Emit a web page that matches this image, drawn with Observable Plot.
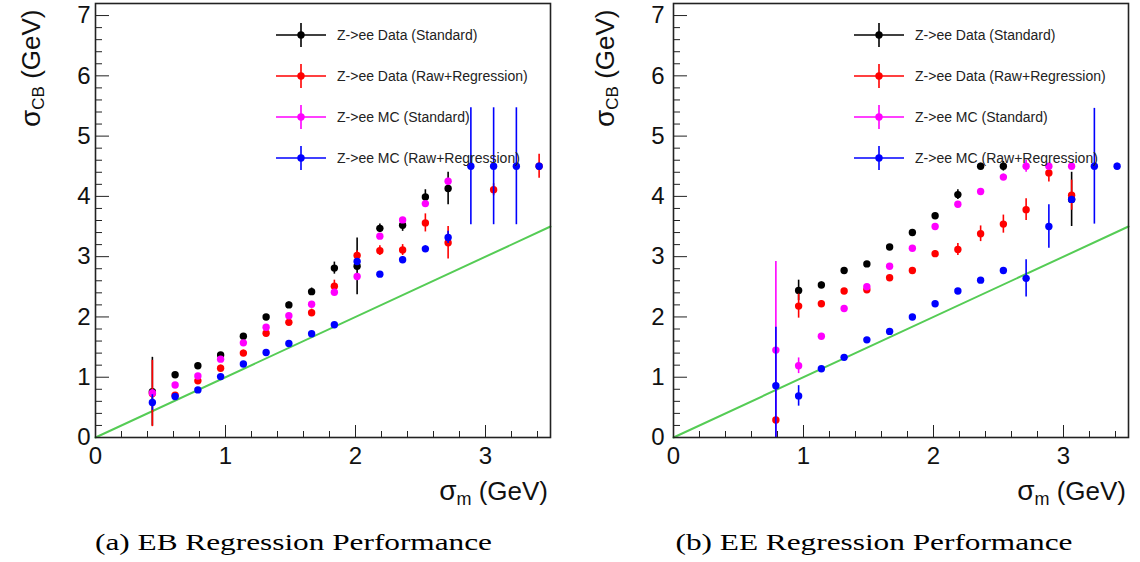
<!DOCTYPE html>
<html><head><meta charset="utf-8">
<script src="https://cdn.jsdelivr.net/npm/d3@7"></script>
<script src="https://cdn.jsdelivr.net/npm/@observablehq/plot@0.6"></script>
<style>
body{margin:0;background:#fff;}
#wrap{display:flex;width:1140px;height:562px;overflow:hidden;}
#wrap svg{display:block;}
</style></head><body><div id="wrap"></div>
<script>
// ---- data ----
const binCenters = [0.4375, 0.6125, 0.7875, 0.9625, 1.1375, 1.3125, 1.4875, 1.6625, 1.8375,
                    2.0125, 2.1875, 2.3625, 2.5375, 2.7125, 2.8875, 3.0625, 3.2375, 3.4125];
const seriesNames = ["Z->ee Data (Standard)", "Z->ee Data (Raw+Regression)", "Z->ee MC (Standard)", "Z->ee MC (Raw+Regression)"];
const seriesColors = ["#000000", "#ff0000", "#ff00ff", "#0000ff"];
const xTickLabels = [0, 1, 2, 3];
const yTickLabels = [0, 1, 2, 3, 4, 5, 6, 7];
const diagonal = [0, 3.5];
const captions = ["(a) EB Regression Performance", "(b) EE Regression Performance"];

// EB panel
const ebDataStd    = [0.76, 1.04, 1.19, 1.37, 1.68, 2.00, 2.20, 2.42, 2.81, 2.84, 3.47, 3.52, 3.99, 4.13, null, null, null, null];
const ebDataStdErr = [0.57, 0.04, 0.04, 0.04, 0.04, 0.04, 0.05, 0.06, 0.10, 0.47, 0.07, 0.10, 0.12, 0.27, null, null, null, null];
const ebDataReg    = [0.73, 0.70, 0.94, 1.15, 1.40, 1.73, 1.91, 2.07, 2.51, 3.02, 3.10, 3.11, 3.56, 3.23, null, 4.11, null, 4.50];
const ebDataRegErr = [0.55, 0.04, 0.05, 0.05, 0.05, 0.05, 0.05, 0.06, 0.10, 0.08, 0.08, 0.09, 0.15, 0.27, null, 0.10, null, 0.20];
const ebMcStd      = [0.74, 0.87, 1.02, 1.30, 1.57, 1.83, 2.02, 2.21, 2.41, 2.67, 3.34, 3.61, 3.88, 4.25, null, null, null, null];
const ebMcStdErr   = [0.05, 0.03, 0.03, 0.03, 0.03, 0.03, 0.03, 0.03, 0.03, 0.03, 0.03, 0.04, 0.04, 0.05, null, null, null, null];
const ebMcReg      = [0.58, 0.68, 0.79, 1.01, 1.22, 1.41, 1.56, 1.72, 1.87, 2.92, 2.71, 2.95, 3.13, 3.32, 4.50, 4.50, 4.50, 4.50];
const ebMcRegErr   = [0.13, 0.03, 0.03, 0.03, 0.03, 0.03, 0.03, 0.03, 0.03, 0.05, 0.04, 0.05, 0.05, 0.10, 0.97, 0.97, 0.97, 0.05];

// EE panel
const eeDataStd    = [null, null, null, 2.44, 2.53, 2.77, 2.88, 3.16, 3.40, 3.68, 4.03, 4.50, 4.50, null, null, 3.95, null, null];
const eeDataStdErr = [null, null, null, 0.17, 0.05, 0.04, 0.04, 0.04, 0.04, 0.04, 0.08, 0.05, 0.08, null, null, 0.45, null, null];
const eeDataReg    = [null, null, 0.29, 2.18, 2.22, 2.43, 2.45, 2.65, 2.77, 3.05, 3.12, 3.38, 3.54, 3.78, 4.39, 4.02, null, null];
const eeDataRegErr = [null, null, 0.05, 0.20, 0.05, 0.04, 0.04, 0.04, 0.04, 0.05, 0.10, 0.13, 0.15, 0.18, 0.15, 0.25, null, null];
const eeMcStd      = [null, null, 1.45, 1.19, 1.68, 2.14, 2.50, 2.84, 3.14, 3.50, 3.87, 4.08, 4.32, 4.50, 4.50, 4.50, null, null];
const eeMcStdErr   = [null, null, 1.47, 0.13, 0.04, 0.04, 0.04, 0.04, 0.04, 0.04, 0.04, 0.04, 0.05, 0.10, 0.05, 0.05, null, null];
const eeMcReg      = [null, null, 0.86, 0.69, 1.14, 1.33, 1.62, 1.76, 2.00, 2.22, 2.43, 2.61, 2.77, 2.64, 3.50, 3.95, 4.50, 4.50];
const eeMcRegErr   = [null, null, 0.97, 0.17, 0.04, 0.03, 0.03, 0.03, 0.03, 0.03, 0.03, 0.03, 0.04, 0.31, 0.36, 0.05, 0.96, 0.05];

// ---- drawing ----
const SANS = "'Liberation Sans', Arial, Helvetica, sans-serif";
const FRAME = "#222";

function buildRows(series) {
  return series.map(([vals, errs], si) =>
    binCenters.map((x, i) => ({x, y: vals[i], e: errs[i] ?? 0, s: si})).filter(d => d.y != null));
}

function panel({series, marginLeft, marginRight, caption, captionX, yTitleX, labelPad}) {
  const W = 570, H = 562;
  const rows = buildRows(series);
  const minorX = d3.range(0, 3.5001, 0.2).map(v => +v.toFixed(2)).filter(v => Math.abs(v - Math.round(v)) > 1e-6);
  const minorY = d3.range(0, 7.2001, 0.2).map(v => +v.toFixed(2)).filter(v => Math.abs(v - Math.round(v)) > 1e-6);
  const seriesMarks = rows.flatMap((r, si) => [
    Plot.ruleX(r, {x: "x", y1: d => d.y - d.e, y2: d => d.y + d.e, stroke: seriesColors[si], strokeWidth: 1.6, clip: true}),
    Plot.dot(r, {x: "x", y: "y", r: 3.7, fill: seriesColors[si], stroke: "none"})
  ]);
  const svg = Plot.plot({
    width: W, height: H,
    marginLeft, marginRight, marginTop: 3, marginBottom: 125,
    x: {domain: [0, 3.5]},
    y: {domain: [0, 7.2]},
    style: {fontFamily: SANS, background: "white", color: "#111"},
    marks: [
      Plot.line(diagonal, {x: d => d, y: d => d, stroke: "#55cc55", strokeWidth: 2}),
      ...seriesMarks,
      Plot.axisX({ticks: minorX, tickSize: -6, tickFormat: () => "", label: null, stroke: FRAME}),
      Plot.axisX({ticks: xTickLabels, tickSize: -12, tickFormat: () => "", label: null, stroke: FRAME}),
      Plot.axisX({ticks: xTickLabels, tickSize: 0, tickPadding: 9, fontSize: 24, tickFormat: d => String(d), label: null}),
      Plot.axisY({ticks: minorY, tickSize: -7, tickFormat: () => "", label: null, stroke: FRAME}),
      Plot.axisY({ticks: yTickLabels, tickSize: -14, tickFormat: () => "", label: null, stroke: FRAME}),
      Plot.axisY({ticks: yTickLabels, tickSize: 0, tickPadding: labelPad, fontSize: 24, tickFormat: d => String(d), label: null}),
      Plot.frame({stroke: FRAME, strokeWidth: 1.6})
    ]
  });
  const s = d3.select(svg);
  const frameRight = W - marginRight;
  // x title
  const xt = s.append("text").attr("x", frameRight - 2).attr("y", 500).attr("text-anchor", "end")
    .attr("font-family", SANS).attr("fill", "#111");
  xt.append("tspan").attr("font-size", 28).text("σ");
  xt.append("tspan").attr("font-size", 18).attr("dy", 5).text("m");
  xt.append("tspan").attr("font-size", 26).attr("dy", -5).text(" (GeV)");
  // y title
  const yt = s.append("text").attr("transform", `translate(${yTitleX},127) rotate(-90)`).attr("text-anchor", "start")
    .attr("font-family", SANS).attr("fill", "#111");
  yt.append("tspan").attr("font-size", 28).text("σ");
  yt.append("tspan").attr("font-size", 17).attr("dy", 4).text("CB");
  yt.append("tspan").attr("font-size", 26).attr("dy", -4).text(" (GeV)");
  // legend
  const legendY = [35, 76, 117, 158];
  const cx = marginLeft + 206;
  seriesNames.forEach((name, i) => {
    const g = s.append("g");
    g.append("line").attr("x1", cx - 25).attr("x2", cx + 25).attr("y1", legendY[i]).attr("y2", legendY[i])
      .attr("stroke", seriesColors[i]).attr("stroke-width", 1.6);
    g.append("line").attr("x1", cx).attr("x2", cx).attr("y1", legendY[i] - 12).attr("y2", legendY[i] + 12)
      .attr("stroke", seriesColors[i]).attr("stroke-width", 1.6);
    g.append("circle").attr("cx", cx).attr("cy", legendY[i]).attr("r", 3.7).attr("fill", seriesColors[i]);
    g.append("text").attr("x", cx + 36).attr("y", legendY[i]).attr("dy", "0.35em").attr("text-anchor", "start")
      .attr("font-family", SANS).attr("font-size", 14).attr("fill", "#222").text(name);
  });
  // caption
  s.append("text").attr("x", captionX).attr("y", 550).attr("text-anchor", "middle")
    .attr("font-family", "'Liberation Serif', 'Times New Roman', serif").attr("font-size", 24)
    .attr("textLength", 397).attr("lengthAdjust", "spacingAndGlyphs")
    .attr("fill", "#000").text(caption);
  return svg;
}

const wrap = document.getElementById("wrap");
wrap.append(panel({
  series: [[ebDataStd, ebDataStdErr], [ebDataReg, ebDataRegErr], [ebMcStd, ebMcStdErr], [ebMcReg, ebMcRegErr]],
  marginLeft: 95, marginRight: 20, caption: captions[0], captionX: 293.5, yTitleX: 39.5, labelPad: 5
}));
wrap.append(panel({
  series: [[eeDataStd, eeDataStdErr], [eeDataReg, eeDataRegErr], [eeMcStd, eeMcStdErr], [eeMcReg, eeMcRegErr]],
  marginLeft: 103, marginRight: 12, caption: captions[1], captionX: 304, yTitleX: 43.5, labelPad: 9
}));
</script>
</body></html>
